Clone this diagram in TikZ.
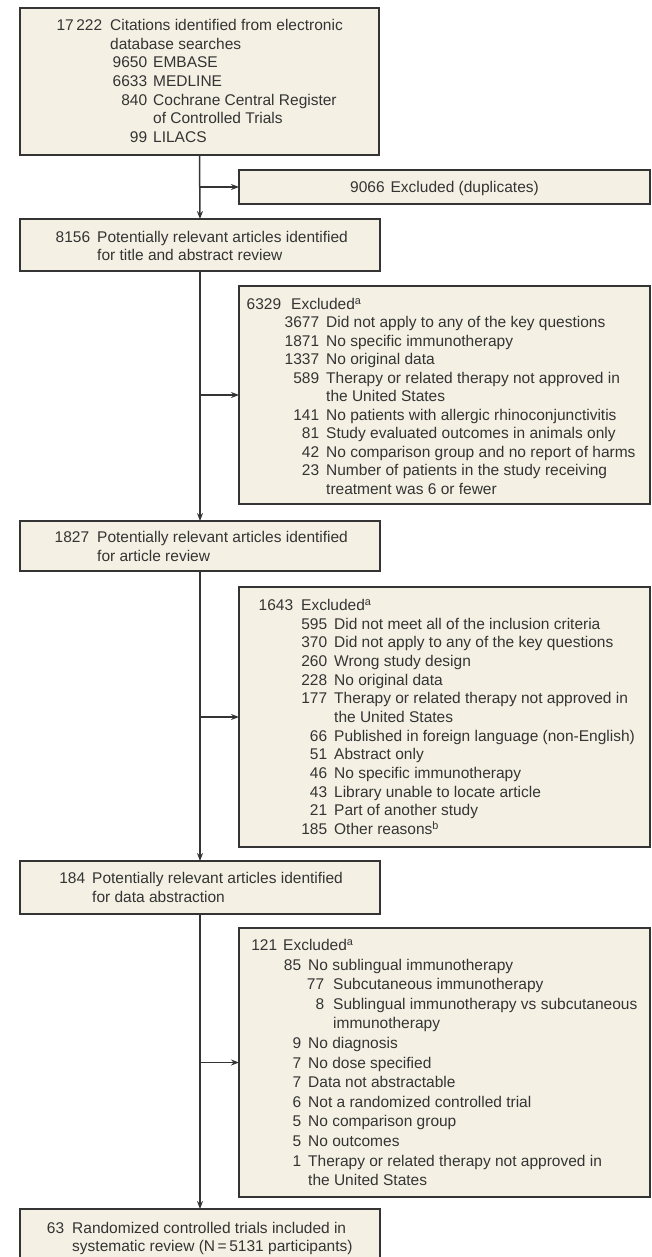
\documentclass[tikz,border=0pt]{standalone}
\usepackage{fontspec}
\setmainfont{Liberation Sans}
\usetikzlibrary{arrows.meta}

\definecolor{boxfill}{RGB}{244,241,228}
\definecolor{ink}{RGB}{52,52,52}

% one line of a box: number set flush right at #1, text starting at #2
\newcommand\ent[4]{\makebox[#1pt][r]{#3}\hspace{\dimexpr#2pt-#1pt\relax}#4}
% a block of lines with a given line pitch; its baseline is the first line
\newcommand\boxtext[2]{\parbox[t]{430pt}{\fontsize{15.5}{#1}\selectfont\raggedright #2}}

\tikzset{
  stage/.style={draw=ink, line width=1.5pt, fill=boxfill, rectangle,
                inner sep=0pt, outer sep=0pt, anchor=north west},
  txt/.style={anchor=base west, inner sep=0pt, text=ink},
  flow/.style={draw=ink, line width=1.5pt, -{Stealth[length=8pt,width=6pt]}},
}

\begin{document}
\begin{tikzpicture}[x=1pt, y=-1pt]
\useasboundingbox (0,0) rectangle (652,1257);
\clip (0,0) rectangle (652,1257);

% stages of the screening
\node[stage, minimum width=359pt, minimum height=147pt] (src)  at (20,8)    {};
\node[stage, minimum width=411pt, minimum height=34pt]  (dup)  at (239,170) {};
\node[stage, minimum width=360pt, minimum height=52pt]  (scr)  at (20,219)  {};
\node[stage, minimum width=411pt, minimum height=218pt] (exA)  at (239,286) {};
\node[stage, minimum width=360pt, minimum height=50pt]  (full) at (20,521)  {};
\node[stage, minimum width=411pt, minimum height=260pt] (exB)  at (239,587) {};
\node[stage, minimum width=360pt, minimum height=53pt]  (abst) at (20,861)  {};
\node[stage, minimum width=411pt, minimum height=269pt] (exC)  at (239,928) {};
\node[stage, minimum width=360pt, minimum height=70pt]  (incl) at (20,1209) {};

% connectors: main trunk and side branches
\draw[flow] (src.south) -- (scr.north);
\draw[flow] (src.south |- dup.west) -- (dup.west);
\draw[flow] (scr.south) -- (full.north);
\draw[flow] (scr.south |- exA.west) -- (exA.west);
\draw[flow] (full.south) -- (abst.north);
\draw[flow] (full.south |- exB.west) -- (exB.west);
\draw[flow] (abst.south) -- (incl.north);
\draw[flow] (abst.south |- exC.west) -- (exC.west);

% texts
\node[txt] (srcT) at (20,30.4) {\boxtext{18.7}{%
\ent{82}{90}{17\,222}{Citations identified from electronic}\\
\ent{82}{90}{}{database searches}\\
\ent{127}{133}{9650}{EMBASE}\\
\ent{127}{133}{6633}{MEDLINE}\\
\ent{127}{133}{840}{Cochrane Central Register}\\
\ent{127}{133}{}{of Controlled Trials}\\
\ent{127}{133}{99}{LILACS}}};

\node[anchor=base, inner sep=0pt, text=ink, font=\fontsize{15.5}{18}\selectfont]
  (dupT) at (444.5,192.4) {9066\hspace{6pt}Excluded (duplicates)};

\node[txt] (scrT) at (20,242.2) {\boxtext{18}{%
\ent{70}{77}{8156}{Potentially relevant articles identified}\\
\ent{70}{77}{}{for title and abstract review}}};

\node[txt] (exAT) at (239,309.4) {\boxtext{18.5}{%
\ent{42}{52}{6329}{Excluded\textsuperscript{a}}\\
\ent{80}{87}{3677}{Did not apply to any of the key questions}\\
\ent{80}{87}{1871}{No specific immunotherapy}\\
\ent{80}{87}{1337}{No original data}\\
\ent{80}{87}{589}{Therapy or related therapy not approved in}\\
\ent{80}{87}{}{the United States}\\
\ent{80}{87}{141}{No patients with allergic rhinoconjunctivitis}\\
\ent{80}{87}{81}{Study evaluated outcomes in animals only}\\
\ent{80}{87}{42}{No comparison group and no report of harms}\\
\ent{80}{87}{23}{Number of patients in the study receiving}\\
\ent{80}{87}{}{treatment was 6 or fewer}}};

\node[txt] (fullT) at (20,542.4) {\boxtext{19}{%
\ent{69}{77}{1827}{Potentially relevant articles identified}\\
\ent{69}{77}{}{for article review}}};

\node[txt] (exBT) at (239,610.4) {\boxtext{18.67}{%
\ent{54}{62}{1643}{Excluded\textsuperscript{a}}\\
\ent{88}{95}{595}{Did not meet all of the inclusion criteria}\\
\ent{88}{95}{370}{Did not apply to any of the key questions}\\
\ent{88}{95}{260}{Wrong study design}\\
\ent{88}{95}{228}{No original data}\\
\ent{88}{95}{177}{Therapy or related therapy not approved in}\\
\ent{88}{95}{}{the United States}\\
\ent{88}{95}{66}{Published in foreign language (non-English)}\\
\ent{88}{95}{51}{Abstract only}\\
\ent{88}{95}{46}{No specific immunotherapy}\\
\ent{88}{95}{43}{Library unable to locate article}\\
\ent{88}{95}{21}{Part of another study}\\
\ent{88}{95}{185}{Other reasons\textsuperscript{b}}}};

\node[txt] (abstT) at (20,883.6) {\boxtext{18.5}{%
\ent{65}{72}{184}{Potentially relevant articles identified}\\
\ent{65}{72}{}{for data abstraction}}};

\node[txt] (exCT) at (239,950.4) {\boxtext{19.6}{%
\ent{38}{44}{121}{Excluded\textsuperscript{a}}\\
\ent{62}{69}{85}{No sublingual immunotherapy}\\
\ent{85}{94}{77}{Subcutaneous immunotherapy}\\
\ent{85}{94}{8}{Sublingual immunotherapy vs subcutaneous}\\
\ent{85}{94}{}{immunotherapy}\\
\ent{62}{69}{9}{No diagnosis}\\
\ent{62}{69}{7}{No dose specified}\\
\ent{62}{69}{7}{Data not abstractable}\\
\ent{62}{69}{6}{Not a randomized controlled trial}\\
\ent{62}{69}{5}{No comparison group}\\
\ent{62}{69}{5}{No outcomes}\\
\ent{62}{69}{1}{Therapy or related therapy not approved in}\\
\ent{62}{69}{}{the United States}}};

\node[txt] (inclT) at (20,1233.8) {\boxtext{18}{%
\ent{44}{52}{63}{Randomized controlled trials included in}\\
\ent{44}{52}{}{systematic review (N\,=\,5131 participants)}}};
\end{tikzpicture}
\end{document}
